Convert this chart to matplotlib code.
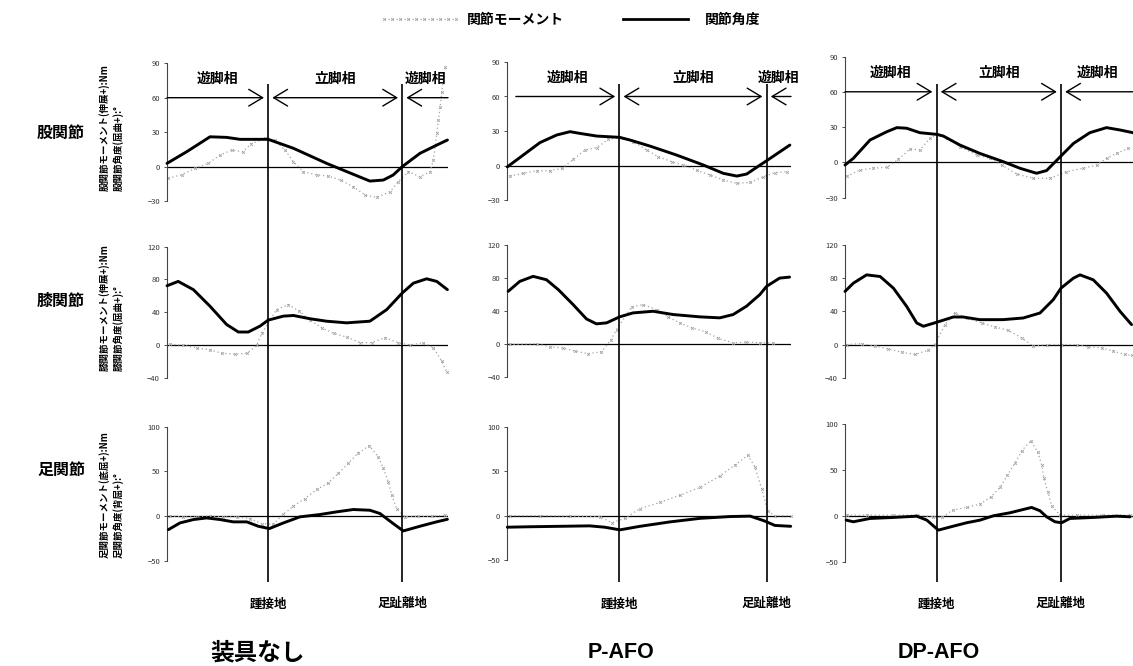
import matplotlib
matplotlib.use("Agg")
import matplotlib.pyplot as plt
from matplotlib.transforms import blended_transform_factory
from matplotlib.lines import Line2D

plt.rcParams['font.family'] = ['Noto Sans CJK JP', 'DejaVu Sans']

# ---------------- data (x = % of plotted cycle) ----------------
conditions = ["装具なし", "P-AFO", "DP-AFO"]
joints = ["股関節", "膝関節", "足関節"]
heel_strike = [36.0, 39.5, 31.8]
toe_off = [83.7, 91.4, 75.0]
phase_labels = ["遊脚相", "立脚相", "遊脚相"]
event_labels = ["踵接地", "足趾離地"]
legend_labels = ["関節モーメント", "関節角度"]
ylabels_moment = ["股関節モーメント(伸展+):Nm", "膝関節モーメント(伸展+):Nm", "足関節モーメント(底屈+):Nm"]
ylabels_angle = ["股関節角度(屈曲+):°", "膝関節角度(屈曲+):°", "足関節角度(背屈+):°"]
y_ticks = [[-30, 0, 30, 60, 90], [-40, 0, 40, 80, 120], [-50, 0, 50, 100]]

# hip
hip_angle_none = [(0, 2.9), (7, 13), (15.3, 26), (21.2, 25.5), (26, 23.8), (36, 23.8), (45, 16), (56.8, 2.9),
                  (64, -4.3), (72.2, -12.5), (77, -11.6), (80.5, -7.2), (83.7, 0), (90, 11.6), (96, 18.8), (99.8, 23.2)]
hip_moment_none = [(0.5, -10), (5.2, -7), (10, -1.4), (14.7, 3), (18.9, 10), (23, 14.5), (27, 13), (30, 20),
                   (34.9, 24.6), (38.4, 23), (42, 14.5), (45, 4.3), (48.5, -4.3), (53.3, -7.2), (57.4, -8),
                   (62, -12), (66.3, -17.4), (70.5, -24.6), (74.6, -26.7), (79.4, -21.7), (82.3, -13),
                   (85.9, -4.3), (90, -8.7), (93.6, -4.3), (94.8, 5.8), (96, 29), (96.6, 40.6), (97.2, 52),
                   (97.8, 65), (99, 87)]
hip_angle_p = [(0, -1), (5.6, 9.2), (11.5, 20), (17.4, 26.6), (22.1, 29.5), (25.6, 28), (31.5, 25.7), (39.5, 24.6),
               (43.2, 22.3), (50.3, 17), (59.7, 9.2), (69.1, 0.6), (76.1, -6.6), (80.9, -9), (84.4, -7.2),
               (87.9, -1.4), (91.4, 4.3), (96.1, 12.1), (99.6, 17.9)]
hip_moment_p = [(0.9, -9), (5.6, -6.6), (10.4, -4.3), (15, -4.3), (19.2, -2.3), (23.3, 5.5), (27.4, 13.6),
                (31.5, 15.6), (35.6, 22.8), (39.7, 24.6), (44.4, 20.8), (49.1, 13.6), (53.2, 7.8), (57.9, 3.5),
                (62, 0.6), (66.7, -3.8), (71.4, -8), (76.1, -12.4), (80.9, -15.3), (85.6, -14.5), (90.3, -9.5),
                (94.4, -6), (98.5, -5.2)]
hip_angle_dp = [(0, -2.3), (2.9, 3.4), (8.7, 19), (14.5, 26), (18, 29.5), (21.4, 29), (26, 25.2), (31.8, 23.8),
                (34.1, 22.4), (39.9, 14.7), (46.8, 7.6), (54.9, 0.6), (60.8, -5.1), (66.5, -9.3), (70, -7),
                (75, 5.4), (79.3, 16), (85, 25.2), (90.8, 29.5), (95.5, 27.5), (100, 25.2)]
hip_moment_dp = [(0.6, -12), (5.2, -6.5), (9.8, -5), (14.5, -4.2), (18.5, 2.5), (22.6, 11.3), (26, 10.5),
                 (29.5, 20.4), (31.8, 23.8), (35.3, 20.4), (39.9, 13.3), (45.7, 6.2), (50.3, 3.4), (54.4, -2.3),
                 (59.6, -10), (65.4, -13.6), (71.1, -13.6), (76.9, -8), (82.7, -5), (87.4, -2.3), (90.8, 3.4),
                 (94.3, 7.6), (98.4, 11.9)]

# knee
knee_angle_none = [(0, 72.3), (4, 77.6), (9.4, 67.5), (15.3, 47.3), (21.2, 25), (25.4, 15.8), (28.9, 15.8),
                   (33.1, 23), (36, 30.3), (41.4, 35.2), (45, 36), (50.9, 32), (56.8, 29), (63.9, 27), (72.2, 29),
                   (78.2, 43.2), (83.7, 63.4), (87.7, 75.5), (92.4, 80.8), (96, 77.6), (99.8, 67.5)]
knee_moment_none = [(1.1, 0.8), (5.8, -0.4), (10.6, -3.6), (15.3, -6), (19.4, -10), (24.2, -11.3), (28.6, -10),
                    (31.9, -0.4), (33.7, 14), (39, 43.2), (43.2, 49.3), (47.1, 41.2), (50.9, 30.3), (55, 21),
                    (59.4, 14), (63.9, 9.7), (68.7, 2.8), (72.8, 2.8), (77.6, 8.9), (82.3, 2.8), (86.5, 0),
                    (91.2, 2.8), (94.8, -3.2), (97.7, -19.4), (99.5, -32.7)]
knee_angle_p = [(0.3, 63.7), (4.4, 75.8), (9.1, 81.9), (13.8, 77.8), (18, 65.7), (23.2, 47.6), (27.9, 30.2),
                (31.4, 24.2), (35, 25.4), (39.6, 32.7), (44.3, 37.5), (51.4, 39.5), (58.5, 35.5), (67.9, 32.7),
                (74.9, 31.5), (79.6, 35.5), (84.3, 45.6), (89, 59.7), (91.4, 69.8), (96, 79.8), (99.5, 81)]
knee_moment_p = [(0.8, -0.8), (10.3, 0), (14.9, -3.6), (19.7, -5.2), (23.8, -8.9), (28.5, -12), (33.2, -9.7),
                 (36.4, 4.4), (38.5, 17.3), (43.8, 44.8), (47.9, 47.6), (52.6, 41.5), (56.7, 32.7), (60.8, 25.4),
                 (65, 19.4), (70, 14.5), (74.3, 6.5), (79.6, 1.2), (84.3, 2), (89, 1.2), (93.7, 1.2)]
knee_angle_dp = [(0, 64), (2.9, 74), (7.5, 84), (12.2, 82), (16.8, 68), (21.4, 46), (24.9, 26), (27.2, 22),
                 (31.8, 26.8), (37.6, 33.2), (41, 33.2), (46.8, 30), (54.9, 30), (61.9, 32), (67.7, 38),
                 (72.3, 54), (75, 68), (79.3, 80), (81.6, 84), (86.2, 78), (90.8, 62), (95.5, 40), (99.5, 24)]
knee_moment_dp = [(0.6, 0), (5.8, 1.2), (10.4, -2), (15, -5.2), (19.7, -9.2), (24.3, -12), (28.9, -6.8),
                  (31.2, 0), (34.7, 24), (38.2, 38), (42.2, 32), (47.5, 26), (52, 21.2), (56.7, 17.2), (61.3, 8),
                  (65.4, -2), (70, 0), (75.2, 0), (80.4, 0), (84.5, -2.8), (89.1, -4), (93.2, -8), (97.2, -12),
                  (99.5, -13.2)]

# ankle
ankle_angle_none = [(0.5, -15), (4.6, -7.5), (9.4, -3.7), (14.1, -1.9), (18.9, -3.7), (23.6, -6.3), (28.4, -6.3),
                    (32.5, -11.2), (36.4, -13.8), (41.4, -7.5), (47.3, -0.7), (54.4, 1.9), (60.4, 4.9),
                    (66.3, 7.5), (72.2, 6.7), (75.8, 3), (80.5, -8.2), (84.1, -16.4), (90, -11.2), (95.9, -6.3),
                    (99.8, -3.4)]
ankle_moment_none = [(1.1, 0.4), (5.8, -0.7), (10.6, -0.7), (15.3, 0), (20, -0.7), (24.8, -0.7), (29.5, -2.6),
                     (33.7, -8.2), (37.8, -9), (41.4, 2.2), (45, 11.2), (49.1, 19.8), (53.3, 29.9), (57.4, 37.3),
                     (61, 47.8), (64.5, 59), (68.1, 70.9), (72, 78.7), (75.2, 66.4), (77, 53.4), (78.8, 38.4),
                     (80, 23.5), (81.7, 8.6), (84.7, -0.7), (89.4, 0), (94.2, 0), (99, 1)]
ankle_angle_p = [(0, -13), (8, -12.5), (18.6, -12), (29, -11.5), (34.3, -13), (39.7, -16), (46.8, -12),
                 (57.4, -7), (68, -3), (78.5, -1), (85.6, -0.5), (90.7, -6), (94.3, -11), (99.9, -12)]
ankle_moment_p = [(1, 0), (11.5, 0), (22, -0.5), (32.7, -1), (36.8, -8), (41.5, -3), (46.8, 8), (53.8, 15),
                  (60.8, 23), (68, 32), (75, 45), (80.2, 57), (84.8, 68), (87.3, 55), (89.7, 30), (91.8, 5),
                  (94.3, 0), (99.9, 0)]
ankle_angle_dp = [(0.4, -4.7), (2.9, -6.5), (8.7, -2.9), (16.8, -1.8), (24.9, -0.4), (28.4, -4.7), (32.4, -15.6),
                  (37.6, -11.3), (42.2, -7.6), (46.9, -4.7), (51.5, 0), (57.3, 3.3), (61.9, 6.9), (64.8, 9.1),
                  (67.7, 5.5), (70, -1.1), (72.9, -6.5), (75.2, -7.6), (78.1, -2.9), (86.2, -1.8), (94.3, -0.4),
                  (99, -1.1)]
ankle_moment_dp = [(0.6, 0.7), (7.5, 0.7), (16.8, 0.7), (24.9, 0.7), (30.7, -1.1), (33.6, -1.8), (37.4, 6.2),
                   (42.2, 9.1), (46.9, 12.7), (50.7, 20.7), (53.8, 30.9), (56.4, 44.4), (59.1, 57.8),
                   (61.4, 70.9), (64.5, 81.8), (66.9, 69.8), (68.3, 55.3), (69.1, 40.7), (70.4, 26.2),
                   (71.8, 10.5), (74.7, 0.7), (80.4, 0.7), (89.7, 0.7), (99, 0.7)]

angles = [[hip_angle_none, hip_angle_p, hip_angle_dp],
          [knee_angle_none, knee_angle_p, knee_angle_dp],
          [ankle_angle_none, ankle_angle_p, ankle_angle_dp]]
moments = [[hip_moment_none, hip_moment_p, hip_moment_dp],
           [knee_moment_none, knee_moment_p, knee_moment_dp],
           [ankle_moment_none, ankle_moment_p, ankle_moment_dp]]
y_limits = [(-30, 90), (-40, 120), (-50, 100)]

# ---------------- layout (pixels) ----------------
W, H = 1133, 666
fig = plt.figure(figsize=(W / 100, H / 100), dpi=100)


def px_axes(l, t, r, b):
    return fig.add_axes([l / W, 1 - b / H, (r - l) / W, (b - t) / H])


col_x = [(167, 448), (507.3, 791), (845, 1133)]
row_y = [[(63.2, 201.2), (61.9, 200.3), (56.5, 197.6)],
         [(246.7, 377.7), (245, 376.7), (245, 377.7)],
         [(426.7, 561), (427, 560), (424, 561.7)]]

MOM_COLOR = '#a3a3a3'

for c in range(3):
    l, r = col_x[c]
    for j in range(3):
        t, b = row_y[j][c]
        ax = px_axes(l, t, r, b)
        ax.set_xlim(0, 100)
        ax.set_ylim(*y_limits[j])
        ax.patch.set_alpha(0)
        for s in ['top', 'right', 'bottom']:
            ax.spines[s].set_visible(False)
        ax.spines['left'].set_color('#444444')
        ax.spines['left'].set_linewidth(0.8)
        ax.set_xticks([])
        ax.set_yticks(y_ticks[j])
        ax.tick_params(axis='y', labelsize=5.5, length=2, width=0.6, pad=3, colors='#333333')
        ax.axhline(0, color='black', lw=0.9, zorder=1)
        mx = [p[0] for p in moments[j][c]]
        my = [p[1] for p in moments[j][c]]
        ax.plot(mx, my, color=MOM_COLOR, lw=0.9, ls=(0, (1, 2.2)), marker='x', ms=2, mew=0.6,
                clip_on=False, zorder=2)
        axx = [p[0] for p in angles[j][c]]
        ayy = [p[1] for p in angles[j][c]]
        ax.plot(axx, ayy, color='black', lw=2.1, solid_capstyle='round', solid_joinstyle='round',
                clip_on=False, zorder=3)

        if j == 0:
            hs, to = heel_strike[c], toe_off[c]
            start = 3 if c == 1 else 0
            ap = dict(arrowstyle='->,head_length=0.5,head_width=0.3', lw=1.0, color='black',
                      mutation_scale=20, shrinkA=0, shrinkB=3)
            ax.annotate('', xy=(hs, 60), xytext=(start, 60), arrowprops=ap, annotation_clip=False)
            ap2 = dict(arrowstyle='<->,head_length=0.5,head_width=0.3', lw=1.0, color='black',
                       mutation_scale=20, shrinkA=3, shrinkB=3)
            ax.annotate('', xy=(to, 60), xytext=(hs, 60), arrowprops=ap2, annotation_clip=False)
            ax.annotate('', xy=(to, 60), xytext=(100, 60), arrowprops=ap, annotation_clip=False)
            mids = [(start + hs) / 2, (hs + to) / 2, (to + 100) / 2]
            for k, m in enumerate(mids):
                ax.text(m, 76, phase_labels[k], ha='center', va='center', fontsize=10, fontweight='bold')

    # event lines overlay
    ov = px_axes(l, 84, r, 582)
    ov.set_xlim(0, 100)
    ov.set_ylim(0, 1)
    ov.axis('off')
    ov.patch.set_alpha(0)
    ov.axvline(heel_strike[c], color='black', lw=1.2)
    ov.axvline(toe_off[c], color='black', lw=1.2)
    tr = blended_transform_factory(ov.transData, fig.transFigure)
    ov.text(heel_strike[c], 1 - 604 / H, event_labels[0], transform=tr, ha='center', va='center',
            fontsize=9, fontweight='bold')
    ov.text(toe_off[c], 1 - 603 / H, event_labels[1], transform=tr, ha='center', va='center',
            fontsize=9, fontweight='bold')

# column titles
title_x = [258, 621, 939]
for c in range(3):
    if c == 0:
        fig.text(title_x[c] / W, 1 - 652 / H, conditions[c], ha='center', va='center', fontsize=17,
                 fontweight='bold')
    else:
        fig.text(title_x[c] / W, 1 - 652 / H, conditions[c], ha='center', va='center', fontsize=15.5,
                 fontweight='bold', family=['Liberation Sans', 'DejaVu Sans'])

# row labels & y labels
row_label_y = [133, 301, 470]
ylabel_bottom = [191, 371, 558]
for j in range(3):
    fig.text(61 / W, 1 - row_label_y[j] / H, joints[j], ha='center', va='center', fontsize=11.5,
             fontweight='bold')
    fig.text(104 / W, 1 - ylabel_bottom[j] / H, ylabels_moment[j], rotation=90, ha='center', va='bottom',
             fontsize=6.8, fontweight='bold')
    fig.text(118 / W, 1 - ylabel_bottom[j] / H, ylabels_angle[j], rotation=90, ha='center', va='bottom',
             fontsize=6.8, fontweight='bold')

# legend
lg = fig.add_axes([0, 0, 1, 1])
lg.set_xlim(0, W)
lg.set_ylim(H, 0)
lg.axis('off')
lg.patch.set_alpha(0)
lg.add_line(Line2D([384, 456], [19, 19], color=MOM_COLOR, lw=0.9, ls=(0, (1, 2.2))))
lg.add_line(Line2D([384, 392, 400, 408, 416, 424, 432, 440, 448, 456], [19] * 10, color=MOM_COLOR, lw=0,
                   marker='x', ms=2, mew=0.6))
lg.text(467, 20, legend_labels[0], ha='left', va='center', fontsize=10, fontweight='bold')
lg.add_line(Line2D([623, 688], [19, 19], color='black', lw=2))
lg.text(705, 20, legend_labels[1], ha='left', va='center', fontsize=10, fontweight='bold')

fig.savefig('out.png', dpi=100)
